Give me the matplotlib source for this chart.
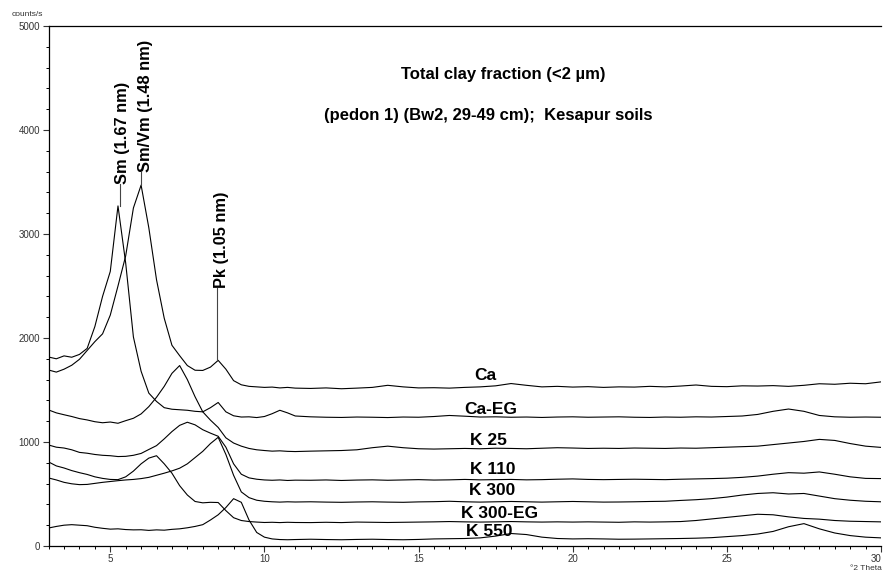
import matplotlib
matplotlib.use("Agg")
import matplotlib.pyplot as plt
import numpy as np
from matplotlib.ticker import MultipleLocator

# 2-theta grid (degrees)
theta = [3.0, 3.25, 3.5, 3.75, 4.0, 4.25, 4.5, 4.75, 5.0, 5.25, 5.5, 5.75,
         6.0, 6.25, 6.5, 6.75, 7.0, 7.25, 7.5, 7.75, 8.0, 8.25, 8.5, 8.75,
         9.0, 9.25, 9.5, 9.75, 10.0, 10.25, 10.5, 10.75, 11.0,
         11.5, 12.0, 12.5, 13.0, 13.5, 14.0, 14.5, 15.0, 15.5, 16.0,
         16.5, 17.0, 17.5, 18.0, 18.5, 19.0, 19.5, 20.0, 20.5, 21.0,
         21.5, 22.0, 22.5, 23.0, 23.5, 24.0, 24.5, 25.0, 25.5, 26.0,
         26.5, 27.0, 27.5, 28.0, 28.5, 29.0, 29.5, 30.0]

ca = [1692, 1672, 1700, 1738, 1795, 1880, 1965, 2040, 2220, 2500, 2790, 3250,
      3470, 3060, 2560, 2190, 1930, 1830, 1735, 1690, 1688, 1720, 1785, 1700,
      1590, 1550, 1535, 1530, 1525, 1528, 1520, 1525, 1518,
      1515, 1520, 1512, 1518, 1525, 1545, 1530, 1520, 1522, 1518,
      1525, 1530, 1540, 1562, 1545, 1530, 1535, 1528, 1532, 1525,
      1530, 1528, 1535, 1530, 1538, 1548, 1535, 1532, 1540, 1538,
      1542, 1535, 1545, 1560, 1555, 1565, 1560, 1578]

ca_eg = [1817, 1800, 1828, 1815, 1842, 1900, 2110, 2400, 2640, 3270, 2720, 2010,
         1680, 1470, 1390, 1330, 1315, 1310, 1305, 1295, 1290, 1330, 1380, 1290,
         1252, 1240, 1242, 1235, 1245, 1272, 1305, 1280, 1250,
         1242, 1238, 1236, 1240, 1238, 1235, 1240, 1238, 1245, 1255,
         1248, 1240, 1242, 1238, 1240, 1236, 1240, 1242, 1238, 1240,
         1242, 1238, 1236, 1240, 1238, 1242, 1240, 1245, 1250, 1265,
         1295, 1317, 1295, 1255, 1242, 1238, 1240, 1238]

k25 = [1308, 1280, 1262, 1245, 1225, 1212, 1195, 1185, 1192, 1180, 1205, 1228,
       1270, 1340, 1430, 1535, 1660, 1735, 1600, 1435, 1290, 1210, 1140, 1040,
       990, 960, 938, 925, 918, 912, 915, 910, 908,
       912, 915, 918, 925, 945, 960, 945, 935, 932, 935,
       938, 935, 940, 938, 935, 940, 945, 942, 938, 940,
       938, 942, 940, 938, 942, 940, 945, 950, 955, 960,
       975, 990, 1005, 1025, 1015, 985, 960, 948]

k110 = [971, 950, 942, 925, 900, 892, 880, 872, 868, 860, 862, 872,
        890, 928, 965, 1030, 1100, 1160, 1190, 1165, 1118, 1085, 1055, 950,
        790, 690, 655, 642, 635, 632, 635, 630, 633,
        632, 635, 630, 634, 636, 632, 635, 638, 634, 636,
        640, 636, 638, 640, 636, 638, 642, 645, 640, 638,
        640, 642, 640, 638, 642, 645, 648, 652, 660, 672,
        690, 705, 700, 712, 690, 665, 650, 648]

k300 = [654, 635, 612, 598, 590, 592, 602, 612, 620, 628, 635, 640,
        648, 660, 680, 700, 722, 748, 790, 850, 910, 985, 1045, 880,
        680, 520, 465, 440, 430, 425, 422, 425, 423,
        425, 422, 420, 423, 425, 422, 420, 424, 426, 430,
        425, 422, 425, 428, 425, 422, 425, 428, 425, 422,
        423, 425, 428, 430, 438, 445, 455, 470, 490, 505,
        512, 500, 505, 480, 455, 440, 430, 425]

k300_eg = [808, 770, 750, 725, 705, 688, 665, 650, 640, 638, 665, 720,
           790, 845, 868, 790, 700, 580, 490, 428, 415, 420, 418, 340,
           272, 245, 235, 230, 226, 228, 225, 228, 226,
           225, 228, 225, 230, 228, 226, 228, 230, 232, 235,
           232, 230, 232, 235, 232, 230, 232, 230, 232, 230,
           228, 232, 230, 232, 235, 245, 260, 275, 290, 305,
           300, 280, 265, 258, 245, 238, 235, 232]

k550 = [173, 188, 200, 205, 200, 195, 180, 170, 162, 165, 158, 155,
        156, 150, 155, 152, 160, 165, 175, 188, 205, 250, 300, 370,
        455, 420, 250, 130, 85, 68, 62, 60, 62,
        65, 62, 60, 63, 65, 62, 60, 63, 68, 70,
        72, 78, 95, 120, 110, 85, 72, 68, 70, 68,
        65, 66, 68, 70, 72, 75, 80, 90, 100, 115,
        140, 185, 215, 165, 125, 100, 85, 78]

series = [ca, ca_eg, k25, k110, k300, k300_eg, k550]
labels = ["Ca", "Ca-EG", "K 25", "K 110", "K 300", "K 300-EG", "K 550"]
label_x = [17.17, 17.33, 17.27, 17.4, 17.4, 17.62, 17.3]
label_y = [1635, 1317, 1010, 740, 529, 317, 135]

x_ticks = [5, 10, 15, 20, 25, 30]
x_ticklabels = ["5", "10", "15", "20", "25", "30"]

plt.rcParams['font.family'] = ['Liberation Sans', 'DejaVu Sans']

fig = plt.figure(figsize=(8.84, 5.74), dpi=100)
ax = fig.add_axes([0.055, 0.0488, 0.9416, 0.9059])

for s in series:
    ax.plot(theta, s, color='black', lw=0.8)

ax.set_xlim(3, 30)
ax.set_ylim(0, 5000)

ax.spines['right'].set_visible(False)
for sp in ['left', 'bottom', 'top']:
    ax.spines[sp].set_linewidth(0.9)

ax.set_xticks(x_ticks)
xtl = ax.set_xticklabels(x_ticklabels)
xtl[-1].set_horizontalalignment('right')
ax.xaxis.set_minor_locator(MultipleLocator(0.5))
ax.yaxis.set_major_locator(MultipleLocator(1000))
ax.yaxis.set_minor_locator(MultipleLocator(200))
ax.tick_params(axis='both', which='major', length=4, width=0.8,
               labelsize=7, colors='#333333', pad=2)
ax.tick_params(axis='both', which='minor', length=2.5, width=0.7)
ax.tick_params(axis='x', top=False)

for t, xl, yl in zip(labels, label_x, label_y):
    ax.text(xl, yl, t, ha='center', va='center', fontsize=12.5,
            fontweight='bold')

# titles
ax.text(17.74, 4529, "Total clay fraction (<2 µm)", ha='center', va='center',
        fontsize=12, fontweight='bold')
ax.text(17.27, 4144, "(pedon 1) (Bw2, 29-49 cm);  Kesapur soils",
        ha='center', va='center', fontsize=12, fontweight='bold')

# peak annotations
th = np.array(theta)
i_eg = int(np.argmax(ca_eg))
i_ca = int(np.argmax(ca))
ax.plot([th[i_eg] + 0.05, th[i_eg] + 0.05], [ca_eg[i_eg], 3480], color='#444444', lw=0.8)
ax.text(5.4, 3480, "Sm (1.67 nm)", rotation=90, ha='center', va='bottom',
        fontsize=11.8, fontweight='bold')
ax.plot([th[i_ca], th[i_ca]], [ca[i_ca], 3596], color='#444444', lw=0.8)
ax.text(6.15, 3596, "Sm/Vm (1.48 nm)", rotation=90, ha='center', va='bottom',
        fontsize=11.8, fontweight='bold')
i_pk = theta.index(8.5)
ax.plot([8.45, 8.45], [ca[i_pk], 2481], color='#444444', lw=0.8)
ax.text(8.6, 2481, "Pk (1.05 nm)", rotation=90, ha='center', va='bottom',
        fontsize=11.8, fontweight='bold')

fig.text(12 / 884, 1 - 14 / 574, "counts/s", fontsize=6, color='#333333',
         ha='left', va='center')
fig.text(882 / 884, 1 - 569 / 574, "°2 Theta", fontsize=6, color='#333333',
         ha='right', va='center')

fig.savefig("out.png", dpi=100)
